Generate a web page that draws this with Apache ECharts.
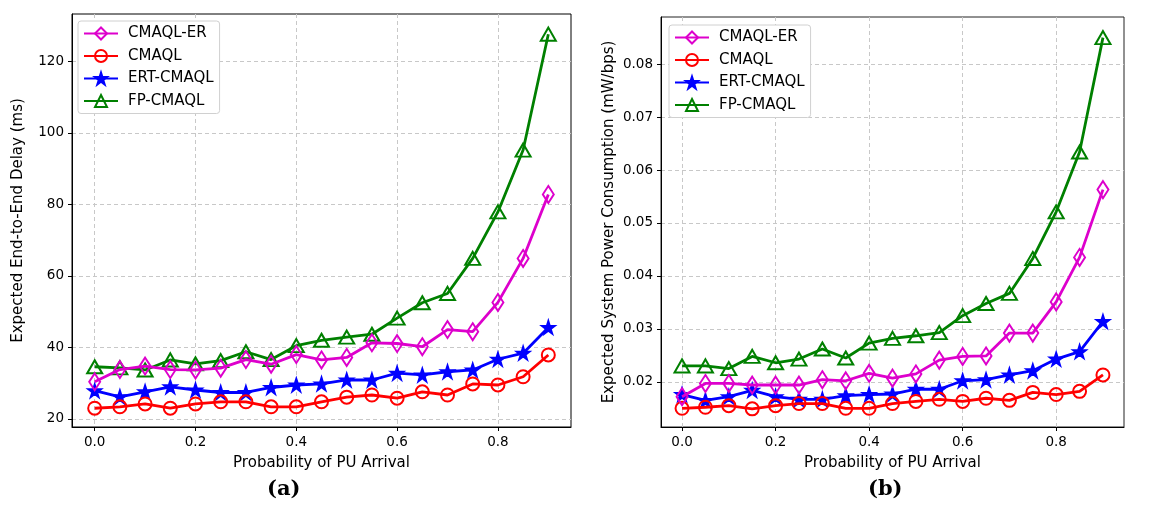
<!DOCTYPE html>
<html>
<head>
<meta charset="utf-8">
<script src="https://cdn.jsdelivr.net/npm/echarts@6/dist/echarts.min.js"></script>
<style>
  html, body { margin: 0; padding: 0; background: #fff; }
  #chart { width: 1156px; height: 509px; }
</style>
</head>
<body>
<div id="chart"></div>
<script>
// probability of PU arrival
const pArrival = [0, 0.05, 0.1, 0.15, 0.2, 0.25, 0.3, 0.35, 0.4, 0.45, 0.5, 0.55, 0.6, 0.65, 0.7, 0.75, 0.8, 0.85, 0.9];

// (a) expected end-to-end delay (ms)
const delayCmaqlEr = [30.4, 33.8, 34.8, 33.8, 33.7, 34.2, 36.6, 35.3, 38.0, 36.5, 37.2, 41.3, 41.1, 40.2, 45.0, 44.4, 52.6, 64.9, 82.8];
const delayCmaql = [23.0, 23.4, 24.2, 23.0, 24.2, 24.8, 24.8, 23.4, 23.4, 24.8, 26.1, 26.7, 25.8, 27.6, 26.7, 29.8, 29.5, 31.8, 37.9];
const delayErt = [27.9, 26.2, 27.6, 29.0, 28.1, 27.4, 27.4, 28.8, 29.5, 29.8, 30.9, 30.9, 32.8, 32.3, 33.2, 33.7, 36.7, 38.4, 45.6];
const delayFp = [34.6, 34.3, 33.7, 36.5, 35.4, 36.3, 38.8, 36.6, 40.5, 42.0, 42.9, 43.7, 48.2, 52.5, 55.1, 64.9, 77.9, 95.2, 127.6];

// (b) expected system power consumption (mW/bps)
const powerCmaqlEr = [0.0172, 0.0197, 0.0197, 0.0194, 0.0194, 0.0194, 0.0204, 0.0202, 0.0216, 0.0207, 0.0215, 0.0241, 0.0248, 0.0249, 0.0292, 0.0292, 0.0351, 0.0435, 0.0563];
const powerCmaql = [0.0150, 0.0152, 0.0155, 0.0149, 0.0155, 0.0159, 0.0159, 0.0150, 0.0150, 0.0159, 0.0163, 0.0167, 0.0163, 0.0169, 0.0165, 0.0180, 0.0176, 0.0182, 0.0213];
const powerErt = [0.0176, 0.0165, 0.0172, 0.0184, 0.0172, 0.0167, 0.0167, 0.0174, 0.0176, 0.0177, 0.0186, 0.0186, 0.0202, 0.0204, 0.0213, 0.0221, 0.0243, 0.0257, 0.0314];
const powerFp = [0.0230, 0.0230, 0.0225, 0.0248, 0.0236, 0.0243, 0.0262, 0.0245, 0.0273, 0.0282, 0.0287, 0.0293, 0.0325, 0.0348, 0.0367, 0.0433, 0.0521, 0.0634, 0.0850];

const xTicks = [0, 0.2, 0.4, 0.6, 0.8];
const delayTicks = [20, 40, 60, 80, 100, 120];
const powerTicks = [0.02, 0.03, 0.04, 0.05, 0.06, 0.07, 0.08];

const seriesNames = ["CMAQL-ER", "CMAQL", "ERT-CMAQL", "FP-CMAQL"];

const chart = echarts.init(document.getElementById("chart"));
const FONT = "DejaVu Sans";
const STAR = "path://M12,0 L14.9,8.9 L24,8.9 L16.6,14.4 L19.4,23.2 L12,17.7 L4.6,23.2 L7.4,14.4 L0,8.9 L9.1,8.9 Z";

// marker look for each curve
const styles = [
    {color: "#dd00cc", symbol: "diamond", size: [11, 17], fill: "rgba(0,0,0,0)"},
    {color: "#ff0000", symbol: "circle", size: 13, fill: "rgba(0,0,0,0)"},
    {color: "#0000ff", symbol: STAR, size: 12.5, fill: "#0000ff"},
    {color: "#008000", symbol: "triangle", size: [15, 13], fill: "rgba(0,0,0,0)"}
];

function makeSeries(values, idx, axisIdx) {
    const s = styles[idx];
    return {
        name: seriesNames[idx],
        type: "line",
        xAxisIndex: axisIdx,
        yAxisIndex: axisIdx,
        data: pArrival.map((x, i) => [x, values[i]]),
        symbol: s.symbol,
        symbolSize: s.size,
        showAllSymbol: true,
        z: 10 - idx,
        lineStyle: {color: s.color, width: 2.8},
        itemStyle: {color: s.fill, borderColor: s.color, borderWidth: 2},
        emphasis: {disabled: true},
        animation: false
    };
}

function xAxis(gridIndex) {
    return {
        type: "value",
        gridIndex: gridIndex,
        min: -0.045,
        max: 0.945,
        name: "Probability of PU Arrival",
        nameLocation: "middle",
        nameGap: 29,
        nameTextStyle: {fontFamily: FONT, fontSize: 15, color: "#000"},
        axisLine: {show: true, onZero: false, lineStyle: {color: "#000", width: 1}},
        axisTick: {show: true, length: 4, customValues: xTicks, lineStyle: {color: "#000"}},
        axisLabel: {customValues: xTicks, margin: 8, fontFamily: FONT, fontSize: 13.5, color: "#000",
            formatter: (v) => v.toFixed(1)},
        splitLine: {show: true, lineStyle: {color: "#c8c8c8", type: [4, 3], width: 1}}
    };
}

function yAxis(gridIndex, min, max, ticks, name, gap, fmt) {
    return {
        type: "value",
        gridIndex: gridIndex,
        min: min,
        max: max,
        name: name,
        nameLocation: "middle",
        nameGap: gap,
        nameTextStyle: {fontFamily: FONT, fontSize: 15, color: "#000"},
        axisLine: {show: true, onZero: false, lineStyle: {color: "#000", width: 1}},
        axisTick: {show: true, length: 4, customValues: ticks, lineStyle: {color: "#000"}},
        axisLabel: {customValues: ticks, margin: 8, fontFamily: FONT, fontSize: 13.5, color: "#000", formatter: fmt},
        splitLine: {show: true, lineStyle: {color: "#c8c8c8", type: [4, 3], width: 1}}
    };
}

function legend(left, top) {
    return {
        data: seriesNames,
        orient: "vertical",
        left: left,
        top: top,
        itemWidth: 34,
        itemHeight: 15,
        itemGap: 7.5,
        padding: [5, 6, 5, 5],
        borderColor: "#d0d0d0",
        borderWidth: 1,
        borderRadius: 3,
        backgroundColor: "#fff",
        selectedMode: false,
        textStyle: {fontFamily: FONT, fontSize: 15, color: "#000", padding: [0, 0, 0, 5]}
    };
}

const option = {
    animation: false,
    backgroundColor: "#fff",
    grid: [
        {left: 72, top: 14, width: 499, height: 413, show: true, borderColor: "#000", borderWidth: 1, backgroundColor: "transparent"},
        {left: 661, top: 17, width: 463, height: 410, show: true, borderColor: "#222", borderWidth: 1, backgroundColor: "transparent"}
    ],
    legend: [legend(78, 21), legend(669, 25)],
    xAxis: [xAxis(0), xAxis(1)],
    yAxis: [
        yAxis(0, 17.75, 133.25, delayTicks, "Expected End-to-End Delay (ms)", 46, (v) => String(Math.round(v))),
        yAxis(1, 0.01147, 0.0889, powerTicks, "Expected System Power Consumption (mW/bps)", 44, (v) => v.toFixed(2))
    ],
    series: [
        makeSeries(delayCmaqlEr, 0, 0),
        makeSeries(delayCmaql, 1, 0),
        makeSeries(delayErt, 2, 0),
        makeSeries(delayFp, 3, 0),
        makeSeries(powerCmaqlEr, 0, 1),
        makeSeries(powerCmaql, 1, 1),
        makeSeries(powerErt, 2, 1),
        makeSeries(powerFp, 3, 1)
    ],
    graphic: [
        {type: "text", left: 283 - 16, top: 479, style: {text: "(a)", fontFamily: "DejaVu Serif", fontWeight: "bold", fontSize: 21, fill: "#000"}},
        {type: "text", left: 884 - 16, top: 479, style: {text: "(b)", fontFamily: "DejaVu Serif", fontWeight: "bold", fontSize: 21, fill: "#000"}}
    ]
};

chart.setOption(option);
</script>
</body>
</html>
